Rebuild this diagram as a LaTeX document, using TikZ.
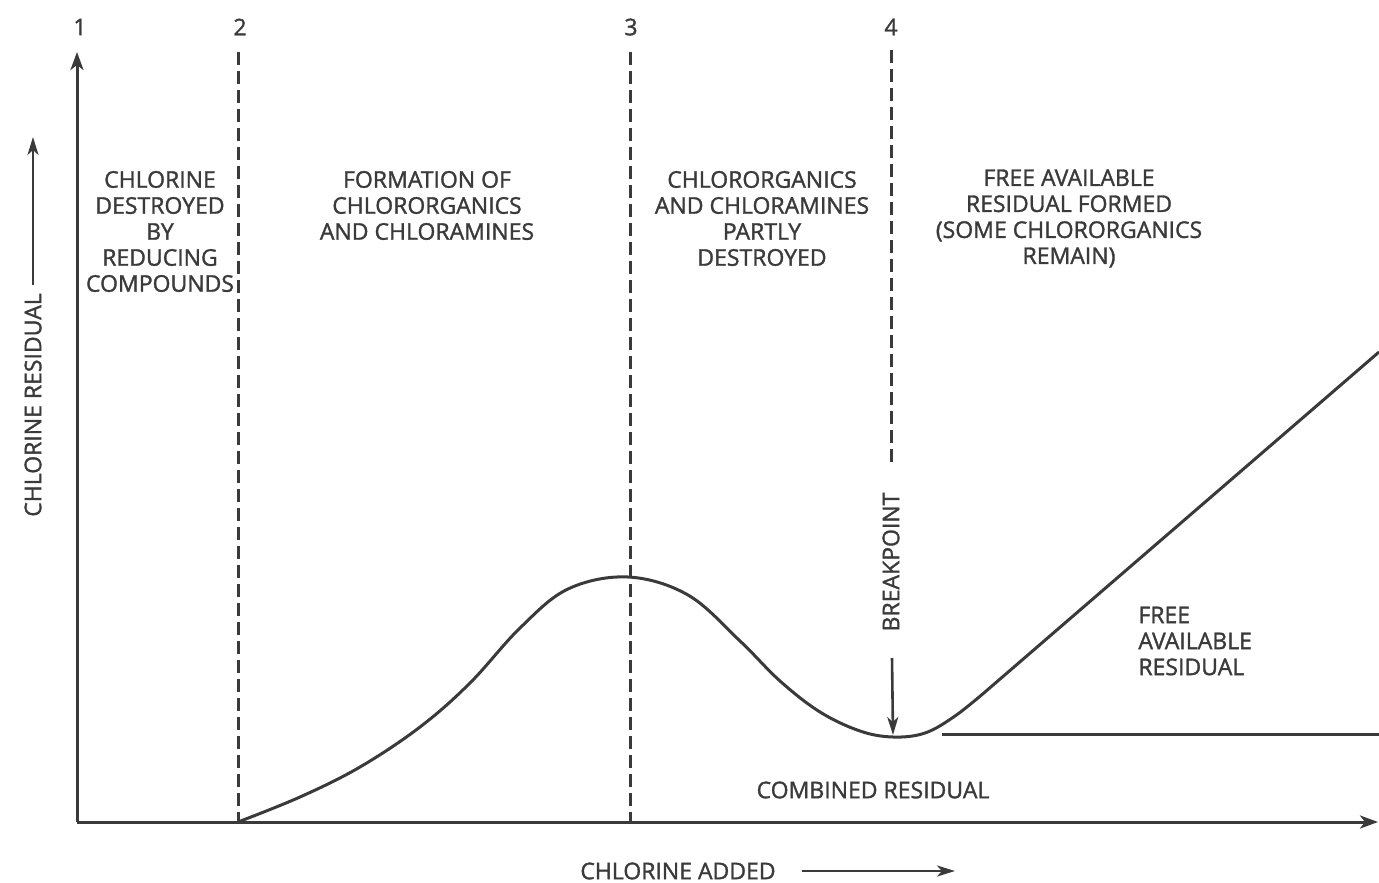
\documentclass[tikz,border=0pt]{standalone}
\usepackage{fontspec}
\newfontfamily\lblfont{Open Sans}[FakeBold=1.4]
\usetikzlibrary{arrows.meta}
\definecolor{ink}{HTML}{3A3A3A}
\begin{document}
\begin{tikzpicture}[x=0.5pt,y=-0.5pt,
  lbl/.style={text=ink, font=\lblfont\fontsize{11.5}{13}\selectfont, align=center, inner sep=0pt},
  axis/.style={draw=ink, line width=1.5pt, -{Stealth[length=9pt,width=6.5pt,inset=2.5pt]}},
  small arrow/.style={draw=ink, line width=1.3pt, -{Stealth[length=9pt,width=5.5pt,inset=2.5pt]}},
  divider/.style={draw=ink, line width=1.5pt, dash pattern=on 6.5pt off 3pt},
  curve/.style={draw=ink, line width=1.5pt},
]
\useasboundingbox (0,0) rectangle (1379,882);
% axes
\coordinate (O) at (77,822);
\coordinate (Ytop) at (77,52);
\coordinate (Xend) at (1378,822);
\draw[axis] (O) -- (Ytop);
\draw[axis] (O) -- (Xend);
% numbers
\node[lbl] (n1) at (80,27) {1};
\node[lbl] (n2) at (240,27) {2};
\node[lbl] (n3) at (631,27) {3};
\node[lbl] (n4) at (891,27) {4};
% dividers
\coordinate (d2t) at (238,52); \coordinate (d2b) at (238,822);
\coordinate (d3t) at (630,52); \coordinate (d3b) at (630,822);
\coordinate (d4t) at (891,50); \coordinate (d4b) at (891,466);
\draw[divider] (d2t) -- (d2b);
\draw[divider] (d3t) -- (d3b);
\draw[divider] (d4t) -- (d4b);
% zone texts
\node[lbl] (z1) at (160,231.5) {CHLORINE\\DESTROYED\\BY\\REDUCING\\COMPOUNDS};
\node[lbl] (z2) at (427,205.5) {FORMATION OF\\CHLORORGANICS\\AND CHLORAMINES};
\node[lbl] (z3) at (762,218.5) {CHLORORGANICS\\AND CHLORAMINES\\PARTLY\\DESTROYED};
\node[lbl] (z4) at (1069,218.5) {FREE AVAILABLE\\RESIDUAL FORMED\\(SOME CHLORORGANICS\\REMAIN)};
% breakpoint
\node[lbl, rotate=90] (bp) at (891,562) {BREAKPOINT};
\coordinate (bpa) at (892,658);
\coordinate (bpb) at (893,735);
\draw[small arrow] (bpa) -- (bpb);
% curve
\draw[curve] plot[smooth, tension=0.6] coordinates {
  (238,822) (300,797) (360,767) (420,727) (470,683) (520,628) (568,589)
  (628,577) (688,595) (740,641) (780,681) (820,712)
  (860,731) (893,737) (925,733) (955,716) (985,692)} -- (1379,352);
% combined residual line
\coordinate (cr1) at (942,734);
\coordinate (cr2) at (1379,734);
\draw[curve] (cr1) -- (cr2);
\node[lbl] (crl) at (873,790) {COMBINED RESIDUAL};
\node[lbl, align=left, anchor=west] (far) at (1138,641) {FREE\\AVAILABLE\\RESIDUAL};
% axis labels
\node[lbl] (xl) at (678,871) {CHLORINE ADDED};
\coordinate (xa1) at (802,871); \coordinate (xa2) at (955,871);
\draw[small arrow] (xa1) -- (xa2);
\node[lbl, rotate=90] (yl) at (33,405) {CHLORINE RESIDUAL};
\coordinate (ya1) at (33,285); \coordinate (ya2) at (33,137);
\draw[small arrow] (ya1) -- (ya2);
\end{tikzpicture}
\end{document}
